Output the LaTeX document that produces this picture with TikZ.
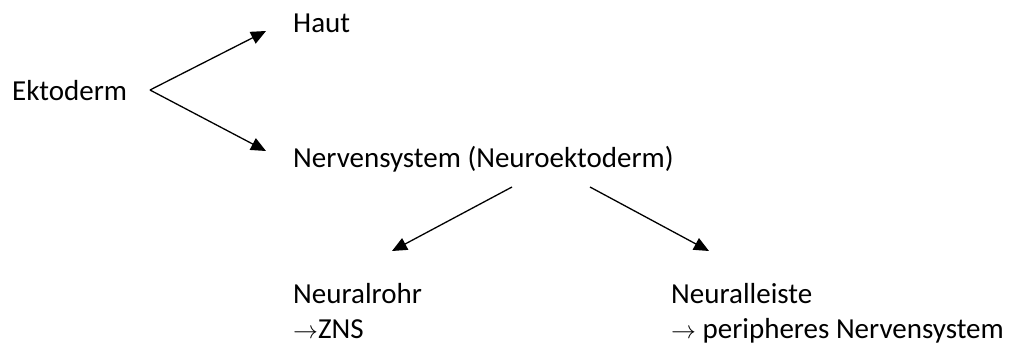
\documentclass[tikz,border=0pt]{standalone}
\usepackage{fontspec}
\setmainfont{Carlito}
\usetikzlibrary{arrows.meta}
\tikzset{
  lbl/.style={anchor=base west, inner sep=0pt, font=\fontsize{29}{35}\selectfont},
  conn/.style={line width=1.3pt, -{Triangle[length=15pt,width=13pt]}}
}
\begin{document}
\begin{tikzpicture}[x=1pt,y=-1pt]
\useasboundingbox (0,0) rectangle (1018,349);
\node[lbl] (ekt) at (12,100) {Ektoderm};
\node[lbl] (haut) at (293,32) {Haut};
\node[lbl] (nerv) at (293,167) {Nervensystem (Neuroektoderm)};
\node[lbl] (rohr) at (293,303) {Neuralrohr};
\node[lbl] (zns) at (293,338) {$\rightarrow$ZNS};
\node[lbl] (leiste) at (671,303) {Neuralleiste};
\node[lbl] (pns) at (671,338) {$\rightarrow$ peripheres Nervensystem};
\coordinate (e0) at (150,90);
\coordinate (h1) at (266,31);
\coordinate (n1) at (266,151);
\coordinate (nl) at (512,187);
\coordinate (nr) at (590,187);
\coordinate (r1) at (392,251);
\coordinate (l1) at (709,251);
\draw[conn] (e0) -- (h1);
\draw[conn] (e0) -- (n1);
\draw[conn] (nl) -- (r1);
\draw[conn] (nr) -- (l1);
\end{tikzpicture}
\end{document}
